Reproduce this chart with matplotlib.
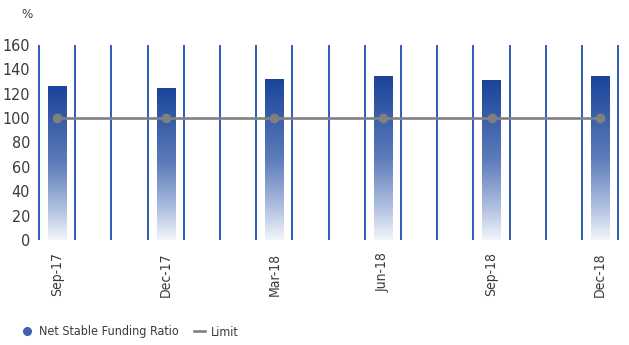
import numpy as np
import matplotlib
matplotlib.use("Agg")
import matplotlib.pyplot as plt
from matplotlib.colors import LinearSegmentedColormap
from matplotlib.lines import Line2D

plt.rcParams['font.family'] = ['DejaVu Sans']
plt.rcParams['font.stretch'] = 'condensed'

# Monthly axis, labels on quarter ends
months = ["Sep-17", "Oct-17", "Nov-17", "Dec-17", "Jan-18", "Feb-18", "Mar-18",
          "Apr-18", "May-18", "Jun-18", "Jul-18", "Aug-18", "Sep-18", "Oct-18",
          "Nov-18", "Dec-18"]
quarters = ["Sep-17", "Dec-17", "Mar-18", "Jun-18", "Sep-18", "Dec-18"]
nsfr = [125.8, 124.7, 131.8, 134.0, 130.7, 134.0]
limit = [100, 100, 100, 100, 100, 100]
y_ticks = [0, 20, 40, 60, 80, 100, 120, 140, 160]

text_color = "#3a3a3a"
grid_blue = "#2e5bb5"
limit_gray = "#808080"

cmap = LinearSegmentedColormap.from_list(
    "nsfr", [(0.0, "#f3f5fb"), (0.2, "#b0c0e0"), (0.5, "#5d7cba"), (1.0, "#1a449a")])

fig = plt.figure(figsize=(6.29, 3.45), dpi=100)
ax = fig.add_axes([39 / 629, 1 - 240 / 345, 579.2 / 629, 195 / 345])

xpos = [months.index(q) for q in quarters]
width = 0.5

# Gradient-filled bars
grad = np.linspace(0, 1, 256).reshape(-1, 1)
bars = ax.bar(xpos, nsfr, width=width, color="none", edgecolor="none", zorder=2)
for b in bars:
    x0 = b.get_x()
    h = b.get_height()
    ax.imshow(grad, cmap=cmap, origin="lower", aspect="auto",
              extent=(x0, x0 + b.get_width(), 0, h), zorder=2, interpolation="bicubic")

# Vertical separators between months
ax.vlines(np.arange(-0.5, len(months), 1.0), 0, 160, color=grid_blue,
          linewidth=1.4, zorder=1, clip_on=False)

# Regulatory limit
ax.plot(xpos, limit, color=limit_gray, linewidth=1.9, marker="o",
        markersize=6, zorder=3)

ax.set_xlim(-0.5, len(months) - 0.5)
ax.set_ylim(0, 160)
ax.set_yticks(y_ticks)
ax.set_yticklabels([str(v) for v in y_ticks], fontsize=11.5, color=text_color)
ax.set_xticks(xpos)
ax.set_xticklabels(quarters, rotation=90, fontsize=10, color=text_color)
ax.tick_params(axis="both", length=0)
ax.tick_params(axis="y", pad=6.5)
ax.tick_params(axis="x", pad=9)
for s in ax.spines.values():
    s.set_visible(False)

fig.text(27 / 629, 1 - 15 / 345, "%", fontsize=9.5, color=text_color,
         ha="center", va="center")

handles = [
    Line2D([], [], linestyle="none", marker="o", markersize=5.5,
           markerfacecolor="#3f63ad", markeredgecolor="#3f63ad"),
    Line2D([], [], color=limit_gray, linewidth=1.9),
]
fig.legend(handles, ["Net Stable Funding Ratio", "Limit"], loc="center left",
           bbox_to_anchor=(10 / 629, 1 - 332 / 345), ncol=2, frameon=False,
           fontsize=9, handlelength=0.9, handletextpad=0.5, columnspacing=1.2,
           labelcolor=text_color)

fig.savefig("out.png", dpi=100)
